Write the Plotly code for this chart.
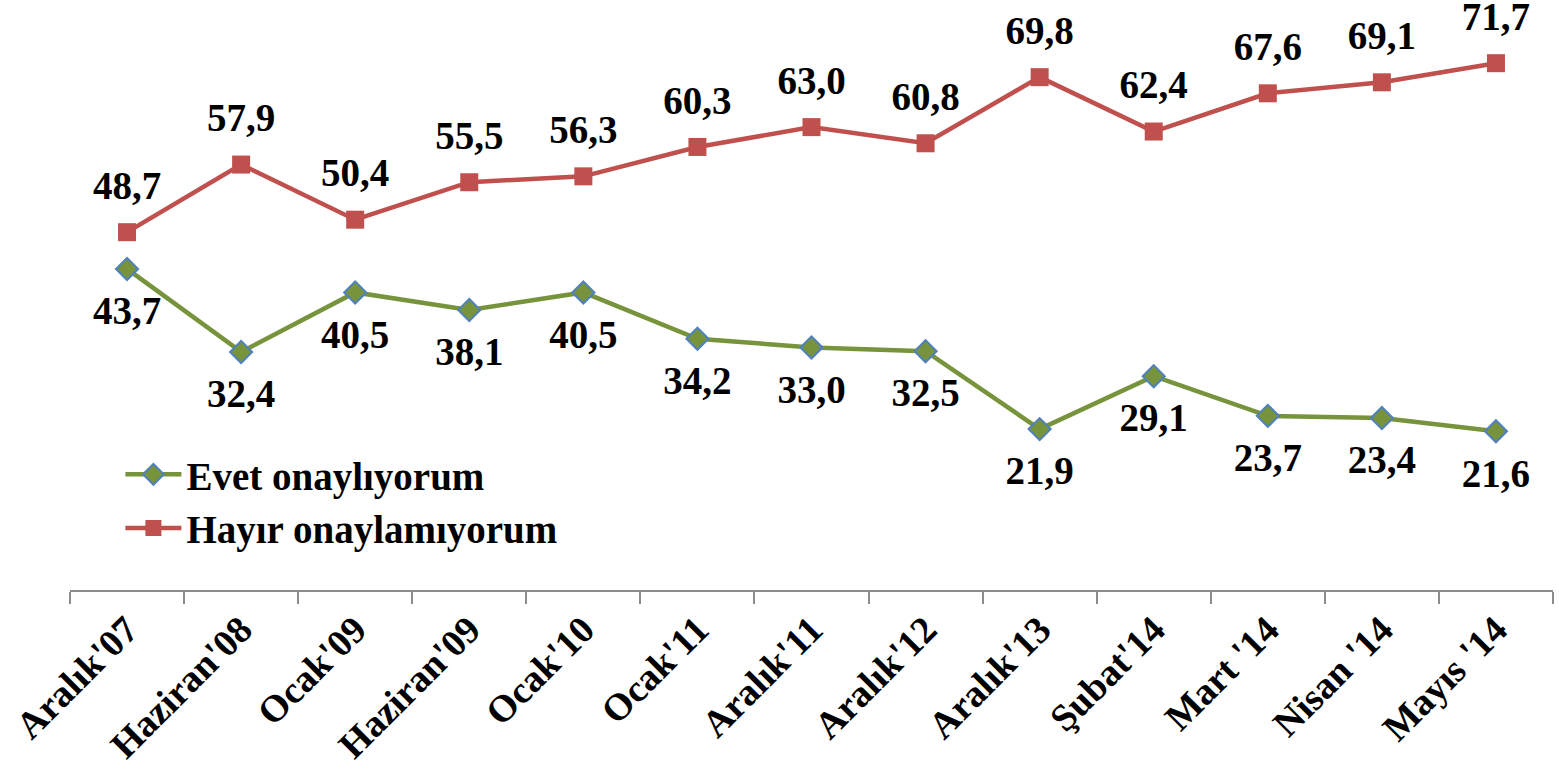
import plotly.graph_objects as go

donemler = ["Aralık'07", "Haziran'08", "Ocak'09", "Haziran'09", "Ocak'10", "Ocak'11",
            "Aralık'11", "Aralık'12", "Aralık'13", "Şubat'14", "Mart '14", "Nisan '14", "Mayıs '14"]
evet = [43.7, 32.4, 40.5, 38.1, 40.5, 34.2, 33.0, 32.5, 21.9, 29.1, 23.7, 23.4, 21.6]
hayir = [48.7, 57.9, 50.4, 55.5, 56.3, 60.3, 63.0, 60.8, 69.8, 62.4, 67.6, 69.1, 71.7]

FONT = "Liberation Serif"
YESIL = "#77933C"
KIRMIZI = "#C0504D"


def etiket(vals):
    return [f"{v:.1f}".replace(".", ",") for v in vals]


fig = go.Figure()
fig.add_trace(go.Scatter(
    x=donemler, y=evet, name="Evet onaylıyorum", mode="lines+markers",
    line=dict(color=YESIL, width=4.5),
    marker=dict(symbol="diamond", size=17, color=YESIL, line=dict(color="#4F81BD", width=2)),
))
fig.add_trace(go.Scatter(
    x=donemler, y=hayir, name="Hayır onaylamıyorum", mode="lines+markers",
    line=dict(color=KIRMIZI, width=4.5),
    marker=dict(symbol="square", size=18, color=KIRMIZI),
))
# labels pushed away from the points via a bigger invisible marker
fig.add_trace(go.Scatter(
    x=donemler, y=evet, mode="markers+text", showlegend=False, hoverinfo="skip",
    marker=dict(size=40, color="rgba(0,0,0,0)"), cliponaxis=False,
    text=etiket(evet), textposition="bottom center",
    textfont=dict(family=FONT, size=39, color="black", weight="bold"),
))
fig.add_trace(go.Scatter(
    x=donemler, y=hayir, mode="markers+text", showlegend=False, hoverinfo="skip",
    marker=dict(size=36, color="rgba(0,0,0,0)"), cliponaxis=False,
    text=etiket(hayir), textposition="top center",
    textfont=dict(family=FONT, size=39, color="black", weight="bold"),
))

fig.update_layout(
    width=1559, height=771,
    margin=dict(l=70, r=6, t=0, b=181),
    plot_bgcolor="white", paper_bgcolor="white",
    font=dict(family=FONT, size=39, color="black", weight="bold"),
    legend=dict(x=0.034, y=0.25, xanchor="left", yanchor="top",
                bgcolor="rgba(0,0,0,0)", font=dict(size=39), itemwidth=56,
                tracegroupgap=0),
    showlegend=True,
)
fig.update_xaxes(
    type="category", range=[-0.5, 12.5], tickangle=-45, automargin=False,
    showline=True, linecolor="#8C8C8C", linewidth=2,
    ticks="outside", tickson="boundaries", ticklen=12, tickcolor="#8C8C8C", tickwidth=2,
    showgrid=False, tickfont=dict(family=FONT, size=38, weight="bold"),
)
fig.update_yaxes(range=[0, 80.3], visible=False, showgrid=False, automargin=False)

# drop the browser's default 8px page margin so the figure fills the window
fig.write_html("out.html", config={"displayModeBar": False},
               post_script="document.body.style.margin='0';")
